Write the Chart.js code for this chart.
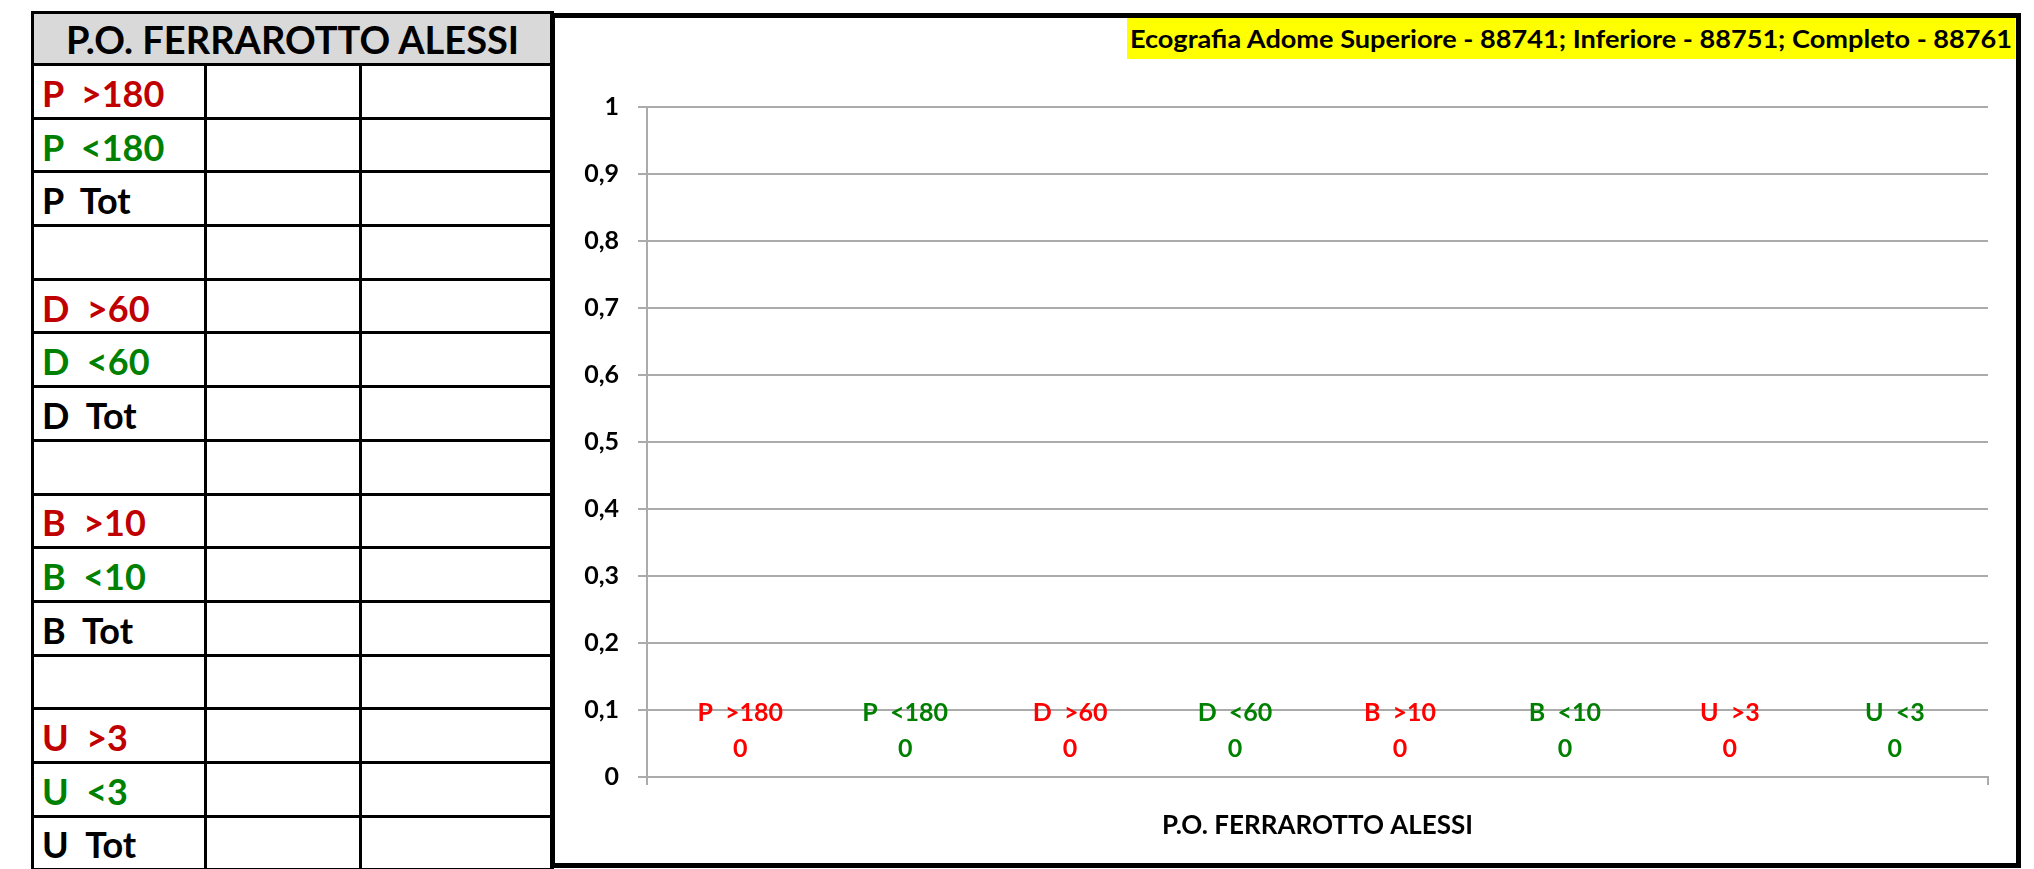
<!DOCTYPE html>
<html>
<head>
<meta charset="utf-8">
<title>P.O. FERRAROTTO ALESSI</title>
<script src="https://cdn.jsdelivr.net/npm/chart.js"></script>
<style>
    html, body { margin: 0; padding: 0; background: #fff; overflow: hidden; }
    body { width: 2034px; height: 869px; position: relative; font-family: Lato, "Open Sans", sans-serif; }
    #tbl { position: absolute; left: 31px; top: 11px; width: 520px; border-collapse: collapse; table-layout: fixed; }
    #tbl th { height: 49px; background: #D9D9D9; border: 3px solid #000; font-size: 38px; font-weight: bold; text-align: center; padding: 0; }
    #tbl tr.row { height: 53.7px; }
    #tbl td { border: 3px solid #000; padding: 3px 0 0 8px; font-size: 36px; font-weight: bold; white-space: pre; overflow: hidden; }
    #frame { position: absolute; left: 550px; top: 13px; width: 1471px; height: 855px; border: 5px solid #000; box-sizing: border-box; }
    #chartBox { position: absolute; left: 556px; top: 18px; width: 1460px; height: 845px; }
    #title { position: absolute; left: 1127px; top: 18px; width: 888px; height: 41px; background: #FFFF00; overflow: hidden; }
    #titleText { display: inline-block; margin-left: 3px; line-height: 41px; font-size: 25px; font-weight: bold; color: #000; white-space: nowrap; transform-origin: left center; }
</style>
</head>
<body>
<table id="tbl">
    <colgroup><col style="width:173px"><col style="width:155px"><col style="width:192px"></colgroup>
    <thead><tr><th colspan="3" id="tblHead"></th></tr></thead>
    <tbody id="tblBody"></tbody>
</table>
<div id="frame"></div>
<div id="chartBox"><canvas id="chartCanvas" width="1460" height="845"></canvas></div>
<div id="title"><span id="titleText"></span></div>

<script>
// ---- data ----
const tableHeader = 'P.O. FERRAROTTO ALESSI';
const rowLabels = ['P  >180', 'P  <180', 'P  Tot', '', 'D  >60', 'D  <60', 'D  Tot', '',
                   'B  >10', 'B  <10', 'B  Tot', '', 'U  >3', 'U  <3', 'U  Tot'];
const rowColors = ['#C00000', '#008000', '#000', '#000', '#C00000', '#008000', '#000', '#000',
                   '#C00000', '#008000', '#000', '#000', '#C00000', '#008000', '#000'];

const chartTitle = 'Ecografia Adome Superiore - 88741; Inferiore - 88751; Completo - 88761';
const categories = ['P.O. FERRAROTTO ALESSI'];
const seriesNames = ['P  >180', 'P  <180', 'D  >60', 'D  <60', 'B  >10', 'B  <10', 'U  >3', 'U  <3'];
const seriesValues = [[0], [0], [0], [0], [0], [0], [0], [0]];
const seriesColors = ['#FF0000', '#008000', '#FF0000', '#008000', '#FF0000', '#008000', '#FF0000', '#008000'];
const yTickLabels = ['0', '0,1', '0,2', '0,3', '0,4', '0,5', '0,6', '0,7', '0,8', '0,9', '1'];

// ---- left table ----
document.getElementById('tblHead').textContent = tableHeader;
const body = document.getElementById('tblBody');
rowLabels.forEach((lab, i) => {
    const tr = document.createElement('tr');
    tr.className = 'row';
    const td = document.createElement('td');
    td.textContent = lab;
    td.style.color = rowColors[i];
    tr.appendChild(td);
    tr.appendChild(document.createElement('td'));
    tr.appendChild(document.createElement('td'));
    body.appendChild(tr);
});

// ---- title box ----
const titleText = document.getElementById('titleText');
titleText.textContent = chartTitle;
function fitTitle() {
    const w = titleText.getBoundingClientRect().width;
    titleText.style.transform = 'scaleX(' + (882 / w) + ')';
}
fitTitle();
document.fonts.ready.then(() => { titleText.style.transform = ''; fitTitle(); });

// series name + value written above each bar
const barLabels = {
    id: 'barLabels',
    afterDatasetsDraw(chart) {
        const ctx = chart.ctx;
        ctx.save();
        ctx.font = 'bold 25px Lato';
        ctx.textAlign = 'center';
        ctx.textBaseline = 'middle';
        chart.data.datasets.forEach((ds, i) => {
            chart.getDatasetMeta(i).data.forEach((bar, j) => {
                ctx.fillStyle = ds.backgroundColor;
                ctx.fillText(ds.label, bar.x, bar.y - 64);
                ctx.fillText(String(ds.data[j]), bar.x, bar.y - 28);
            });
        });
        ctx.restore();
    }
};

const gridGray = '#ABABAB';

new Chart(document.getElementById('chartCanvas'), {
    type: 'bar',
    data: {
        labels: categories,
        datasets: seriesNames.map((name, i) => ({
            label: name,
            data: seriesValues[i],
            backgroundColor: seriesColors[i],
            borderWidth: 0
        }))
    },
    options: {
        responsive: false,
        animation: false,
        devicePixelRatio: 1,
        categoryPercentage: 0.984,
        barPercentage: 0.9,
        layout: { padding: { top: 89, right: 28, left: 0, bottom: 0 } },
        plugins: {
            legend: { display: false },
            title: { display: false },
            tooltip: { enabled: false }
        },
        scales: {
            x: {
                grid: { display: true, drawOnChartArea: false, offset: true, color: gridGray, lineWidth: 2, tickLength: 8 },
                border: { display: true, color: gridGray, width: 2 },
                ticks: { color: '#000', font: { family: 'Lato', weight: 'bold', size: 26 }, padding: 25 },
                afterFit(s) { s.height = 86; }
            },
            y: {
                min: 0,
                max: 1,
                ticks: {
                    stepSize: 0.1,
                    color: '#000',
                    font: { family: 'Lato', weight: 'bold', size: 25 },
                    padding: 19,
                    callback: (v, i) => yTickLabels[i]
                },
                grid: { color: gridGray, lineWidth: 2, tickLength: 9 },
                border: { display: true, color: gridGray, width: 2 },
                afterFit(s) { s.width = 91; }
            }
        }
    },
    plugins: [barLabels]
});
</script>
</body>
</html>
